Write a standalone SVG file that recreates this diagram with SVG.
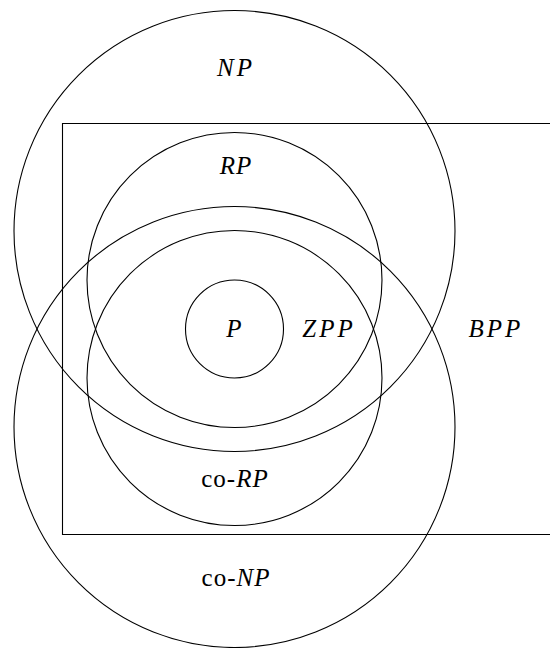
<svg xmlns="http://www.w3.org/2000/svg" width="550" height="648" viewBox="0 0 550 648">
<style>
.c{fill:none;stroke:#000;stroke-width:1.1}
.t{font-size:25px;font-style:italic;text-anchor:middle;fill:#000}
.u{font-style:normal}
</style>
<rect width="550" height="648" fill="#fff"/>
<g id="connectors"></g>
<g font-family="'Liberation Serif', 'Times New Roman', 'DejaVu Serif', serif">
<g id="BPP"><path class="c" d="M551,123.5 H62.5 V534.5 H551"/><text class="t" x="496" y="337" letter-spacing="3">BPP</text></g>
<g id="NP"><circle class="c" cx="234.5" cy="231" r="220.5"/><text class="t" x="236" y="76" letter-spacing="3">NP</text></g>
<g id="coNP"><circle class="c" cx="234.5" cy="427" r="220.5"/><text class="t" x="236" y="586" letter-spacing="1"><tspan class="u">co-</tspan>NP</text></g>
<g id="RP"><circle class="c" cx="234.5" cy="280" r="147.5"/><text class="t" x="236" y="174" letter-spacing="1">RP</text></g>
<g id="coRP"><circle class="c" cx="234.5" cy="378" r="147.5"/><text class="t" x="235" y="487" letter-spacing="1"><tspan class="u">co-</tspan>RP</text></g>
<g id="P"><circle class="c" cx="234.5" cy="329" r="49"/><text class="t" x="234" y="337">P</text></g>
<g id="ZPP"><text class="t" x="329" y="337" letter-spacing="3">ZPP</text></g>
</g>
</svg>
